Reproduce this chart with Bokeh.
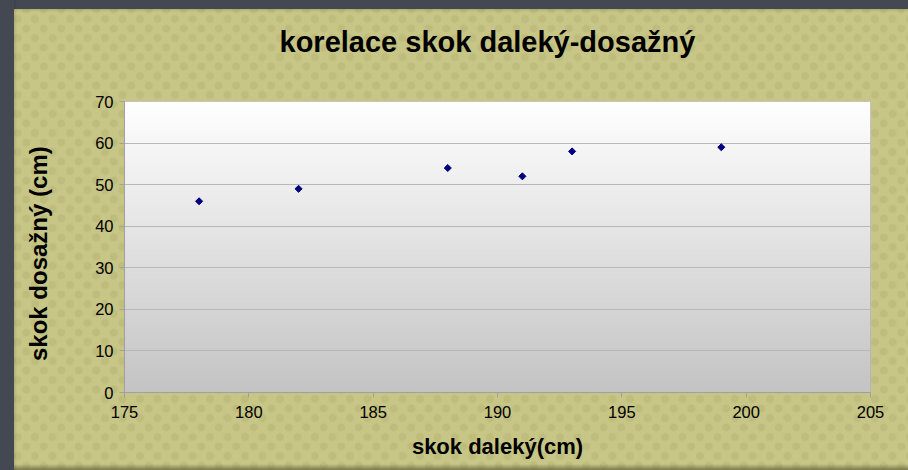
import numpy as np
from bokeh.plotting import figure
from bokeh.models import Range1d, FixedTicker, Title
from bokeh.embed import file_html
from bokeh.resources import INLINE

# ---- data ----
skok_daleky = [178, 182, 188, 191, 193, 199]
skok_dosazny = [46, 49, 54, 52, 58, 59]
x_ticks = [175, 180, 185, 190, 195, 200, 205]
y_ticks = [0, 10, 20, 30, 40, 50, 60, 70]
title_text = "korelace skok daleký-dosažný"
x_label = "skok daleký(cm)"
y_label = "skok dosažný (cm)"

FONT = "Liberation Sans"

p = figure(width=892, height=454, output_backend="svg", toolbar_location=None,
           x_range=Range1d(x_ticks[0], x_ticks[-1]), y_range=Range1d(y_ticks[0], y_ticks[-1]),
           min_border_left=116, min_border_right=30, min_border_top=93, min_border_bottom=70)

p.border_fill_alpha = 0
p.background_fill_color = "#ffffff"
p.outline_line_color = "#b0b0b0"
p.outline_line_width = 1

# gradient plot-area background (white at top -> grey at bottom)
n = 200
img = np.empty((n, 1), dtype=np.uint32)
view = img.view(dtype=np.uint8).reshape((n, 1, 4))
g = np.linspace(196, 255, n).astype(np.uint8)
view[:, 0, 0] = g
view[:, 0, 1] = g
view[:, 0, 2] = g
view[:, 0, 3] = 255
bg = p.image_rgba(image=[img], x=x_ticks[0], y=y_ticks[0],
                  dw=x_ticks[-1] - x_ticks[0], dh=y_ticks[-1] - y_ticks[0])
bg.level = "image"

p.scatter(skok_daleky, skok_dosazny, marker="square", size=5, angle=np.pi / 4,
          fill_color="#000080", line_color="#000080", line_width=1)

# title: a thin spacer panel next to the frame, then the real title above it
p.title.text = ""
spacer = Title(text=" ", text_font_size="1px", standoff=41)
main_title = Title(text=title_text, align="left", offset=155, standoff=0,
                   text_font=FONT, text_font_size="29px", text_font_style="bold",
                   text_color="#000000")
p.add_layout(spacer, "above")
p.add_layout(main_title, "above")

# axes
for ax in (p.xaxis[0], p.yaxis[0]):
    ax.axis_line_color = "#a0a0a0"
    ax.major_tick_line_color = "#a0a0a0"
    ax.major_tick_out = 5
    ax.major_tick_in = 0
    ax.minor_tick_line_color = None
    ax.major_label_text_font = FONT
    ax.major_label_text_font_size = "16.5px"
    ax.major_label_text_color = "#000000"
    ax.axis_label_text_font = FONT
    ax.axis_label_text_font_style = "bold"
    ax.axis_label_text_color = "#000000"

p.xaxis.ticker = FixedTicker(ticks=x_ticks)
p.yaxis.ticker = FixedTicker(ticks=y_ticks)
p.xaxis.axis_label = x_label
p.yaxis.axis_label = y_label + "\u00a0\u00a0"
p.xaxis.axis_label_text_font_size = "22px"
p.yaxis.axis_label_text_font_size = "24px"
p.xaxis.axis_label_standoff = 13
p.yaxis.axis_label_standoff = 40
p.xaxis.major_label_standoff = 8
p.yaxis.major_label_standoff = 6

p.xgrid.grid_line_color = None
p.ygrid.ticker = FixedTicker(ticks=y_ticks)
p.ygrid.grid_line_color = "#b8b8b8"
p.ygrid.grid_line_width = 1

html = file_html(p, INLINE)
style = """<style>
html, body { margin: 0; padding: 0; }
body { margin: 8px; overflow: hidden;
  background-color: #c7c686;
  background-image:
    linear-gradient(to right, #434852 14px, rgba(0,0,0,0.12) 14px, transparent 17px),
    linear-gradient(to bottom, #434852 9px, rgba(0,0,0,0.12) 9px, transparent 12px),
    linear-gradient(to top, rgba(60,60,30,0.55) 0px, transparent 6px),
    radial-gradient(circle, rgba(140,140,70,0.16) 3.5px, transparent 4.5px),
    radial-gradient(circle, rgba(140,140,70,0.16) 3.5px, transparent 4.5px);
  background-size: 100% 100%, 100% 100%, 100% 100%, 17.5px 19px, 17.5px 19px;
  background-position: 0 0, 0 0, 0 0, 0 0, 8.75px 9.5px;
  background-attachment: fixed;
}
</style>
</head>"""
html = html.replace("</head>", style, 1)
open("out.html", "w").write(html)
